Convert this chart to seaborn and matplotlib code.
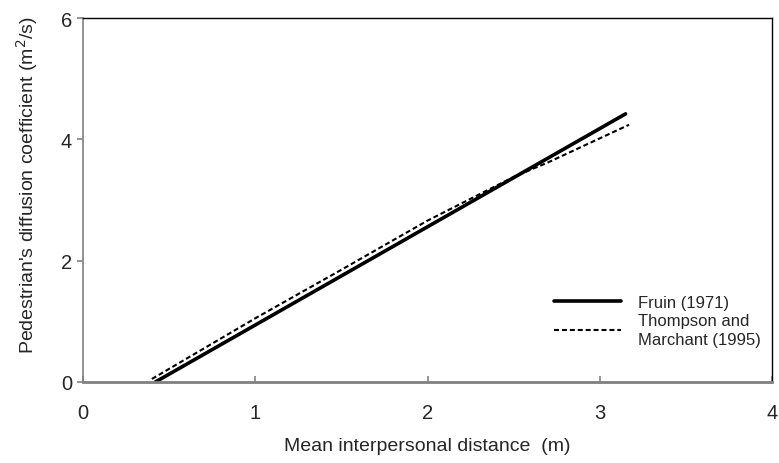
import matplotlib
matplotlib.use("Agg")
import matplotlib.pyplot as plt
import seaborn as sns
import pandas as pd

fruin_x = [0.42, 3.15]
fruin_y = [0.0, 4.42]
thompson_x = [0.40, 1.0, 1.5, 2.0, 2.5, 2.7, 3.17]
thompson_y = [0.05, 1.05, 1.85, 2.66, 3.38, 3.62, 4.24]
x_ticks = [0, 1, 2, 3, 4]
y_ticks = [0, 2, 4, 6]

sns.set_theme(style="white")
plt.rcParams['font.family'] = ['Liberation Sans', 'DejaVu Sans']

fig = plt.figure(figsize=(7.79, 4.64), dpi=100)
ax = fig.add_axes([83/779, 1-383/464, (772-83)/779, (383-19)/464])

df1 = pd.DataFrame({"x": fruin_x, "y": fruin_y})
df2 = pd.DataFrame({"x": thompson_x, "y": thompson_y})
sns.lineplot(data=df1, x="x", y="y", ax=ax, color="black", lw=2.6,
             label="Fruin (1971)", sort=False)
sns.lineplot(data=df2, x="x", y="y", ax=ax, color="black", lw=1.5,
             linestyle=(0, (2.4, 1.4)), label="Thompson and\nMarchant (1995)", sort=False)

ax.set_xlim(0, 4)
ax.set_ylim(0, 6)
ax.set_xticks(x_ticks)
ax.set_yticks(y_ticks)
ax.set_xticklabels([str(v) for v in x_ticks], fontsize=14.5)
ax.set_yticklabels([str(v) for v in y_ticks], fontsize=14.5)
ax.tick_params(axis='x', direction='in', length=4, color='#888888', pad=15)
ax.tick_params(axis='y', direction='out', length=4, color='#888888', pad=4, left=True)
ax.tick_params(axis='x', bottom=True)

for side in ['top', 'right']:
    ax.spines[side].set_color('black')
    ax.spines[side].set_linewidth(1.0)
ax.spines['left'].set_color('#808080')
ax.spines['left'].set_linewidth(1.2)
ax.spines['bottom'].set_color('#808080')
ax.spines['bottom'].set_linewidth(2.0)

ax.set_xlabel("Mean interpersonal distance  (m)", fontsize=14, labelpad=11)
ax.set_ylabel("Pedestrian's diffusion coefficient (m$^2$/s)", fontsize=14, labelpad=6)
ax.yaxis.set_label_coords(-0.063, 0.544)

leg = ax.legend(loc='upper left', bbox_to_anchor=(0.68 - 4/689, 0.257), frameon=False,
                fontsize=12, handlelength=4.0, handletextpad=1.0,
                labelspacing=0.2, borderaxespad=0)
for t in leg.get_texts():
    t.set_linespacing(1.3)

fig.savefig("out.png", dpi=100)
